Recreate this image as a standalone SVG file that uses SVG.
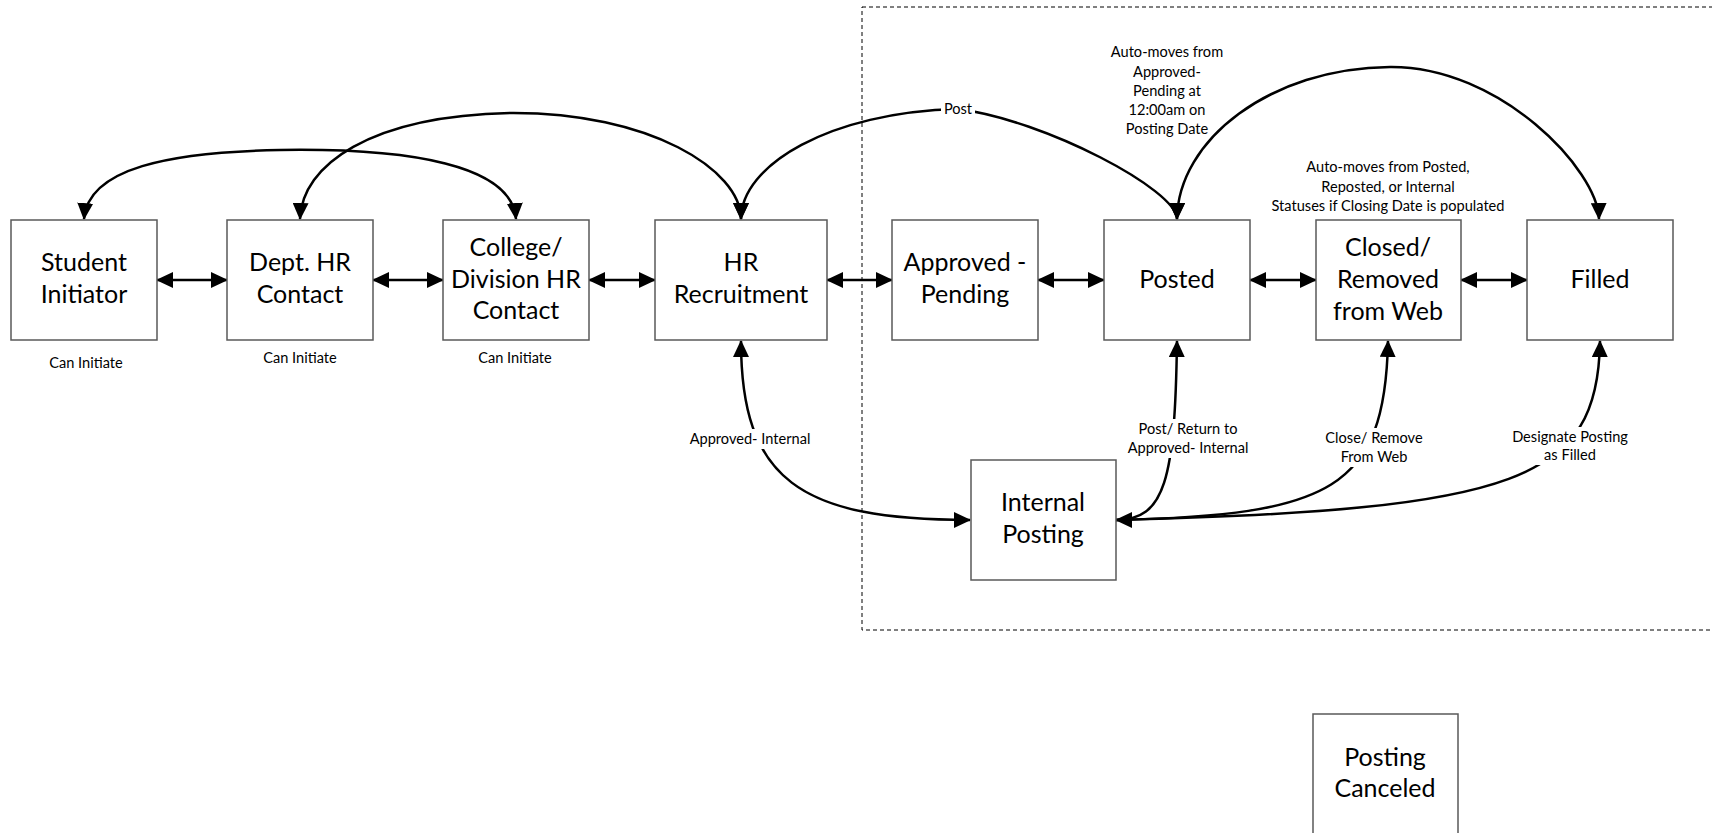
<svg xmlns="http://www.w3.org/2000/svg" width="1712" height="833" viewBox="0 0 1712 833">
<style>
.box{fill:#fff;stroke:#595959;stroke-width:1.5}
.bt{font-family:Lato,"Liberation Sans",sans-serif;font-size:25px;fill:#000;text-anchor:middle}
.st{font-family:Lato,"Liberation Sans",sans-serif;font-size:14.6px;fill:#000;text-anchor:middle}
.c{fill:none;stroke:#000;stroke-width:2.5}
.d{marker-end:url(#ah);marker-start:url(#ah)}
.bg{fill:#fff;stroke:none}
</style>
<defs>
<marker id="ah" viewBox="0 0 17 16" refX="16" refY="8" markerWidth="17" markerHeight="16" markerUnits="userSpaceOnUse" orient="auto-start-reverse">
<path d="M0,0 L17,8 L0,16 z" fill="#000"/>
</marker>
</defs>
<rect width="1712" height="833" fill="#fff"/>
<rect x="862" y="7" width="900" height="623" fill="none" stroke="#000" stroke-width="1" stroke-dasharray="4,3"/>

<g id="connectors">
<path class="c d" d="M157,280 L227,280"/>
<path class="c d" d="M373,280 L443,280"/>
<path class="c d" d="M589,280 L655,280"/>
<path class="c d" d="M827,280 L892,280"/>
<path class="c d" d="M1038,280 L1104,280"/>
<path class="c d" d="M1250,280 L1316,280"/>
<path class="c d" d="M1461,280 L1527,280"/>
<path class="c d" d="M84,219 C88,168 170,152 280,150 C410,148 512,165 516,219"/>
<path class="c d" d="M300,219 C302,165 370,116 510,113 C650,112 741,170 741,219"/>
<path class="c d" d="M741,219 C741,165 830,112 958,109 C1045,120 1177,190 1177,219"/>
<path class="c d" d="M1177,219 C1178,140 1270,68 1390,67 C1500,66 1598,170 1599,219"/>
<path class="c d" d="M741,341 C741,480 800,520 970,520"/>
<path class="c d" d="M1177,341 C1175,480 1165,520 1116,520"/>
<path class="c" marker-start="url(#ah)" d="M1388,341 C1385,490 1330,515 1116,520"/>
<path class="c" marker-start="url(#ah)" d="M1600,341 C1598,480 1520,510 1116,520"/>
<rect class="bg" x="941" y="100" width="34" height="18"/>
<rect class="bg" x="686" y="429" width="128" height="20"/>
<rect class="bg" x="1124" y="419" width="128" height="39"/>
<rect class="bg" x="1322" y="428" width="103" height="39"/>
<rect class="bg" x="1509" y="427" width="122" height="38"/>
<text class="st" x="958" y="114">Post</text>
<text class="st" x="750" y="444">Approved- Internal</text>
<text class="st" x="1188" y="434">Post/ Return to</text>
<text class="st" x="1188" y="453">Approved- Internal</text>
<text class="st" x="1374" y="443">Close/ Remove</text>
<text class="st" x="1374" y="462">From Web</text>
<text class="st" x="1570" y="442">Designate Posting</text>
<text class="st" x="1570" y="460">as Filled</text>
<text class="st" x="1167" y="57">Auto-moves from</text>
<text class="st" x="1167" y="77">Approved-</text>
<text class="st" x="1167" y="96">Pending at</text>
<text class="st" x="1167" y="115">12:00am on</text>
<text class="st" x="1167" y="134">Posting Date</text>
<text class="st" x="1388" y="172">Auto-moves from Posted,</text>
<text class="st" x="1388" y="192">Reposted, or Internal</text>
<text class="st" x="1388" y="211">Statuses if Closing Date is populated</text>
</g>

<g id="student">
<rect class="box" x="11" y="220" width="146" height="120"/>
<text class="bt" x="84" y="271">Student</text>
<text class="bt" x="84" y="303">Initiator</text>
<text class="st" x="86" y="368">Can Initiate</text>
</g>
<g id="dept">
<rect class="box" x="227" y="220" width="146" height="120"/>
<text class="bt" x="300" y="271">Dept. HR</text>
<text class="bt" x="300" y="303">Contact</text>
<text class="st" x="300" y="363">Can Initiate</text>
</g>
<g id="college">
<rect class="box" x="443" y="220" width="146" height="120"/>
<text class="bt" x="516" y="256">College/</text>
<text class="bt" x="516" y="288">Division HR</text>
<text class="bt" x="516" y="319">Contact</text>
<text class="st" x="515" y="363">Can Initiate</text>
</g>
<g id="hr">
<rect class="box" x="655" y="220" width="172" height="120"/>
<text class="bt" x="741" y="271">HR</text>
<text class="bt" x="741" y="303">Recruitment</text>
</g>
<g id="approved">
<rect class="box" x="892" y="220" width="146" height="120"/>
<text class="bt" x="965" y="271">Approved -</text>
<text class="bt" x="965" y="303">Pending</text>
</g>
<g id="posted">
<rect class="box" x="1104" y="220" width="146" height="120"/>
<text class="bt" x="1177" y="288">Posted</text>
</g>
<g id="closed">
<rect class="box" x="1316" y="220" width="145" height="120"/>
<text class="bt" x="1388" y="256">Closed/</text>
<text class="bt" x="1388" y="288">Removed</text>
<text class="bt" x="1388" y="320">from Web</text>
</g>
<g id="filled">
<rect class="box" x="1527" y="220" width="146" height="120"/>
<text class="bt" x="1600" y="288">Filled</text>
</g>
<g id="internal">
<rect class="box" x="971" y="460" width="145" height="120"/>
<text class="bt" x="1043" y="511">Internal</text>
<text class="bt" x="1043" y="543">Posting</text>
</g>
<g id="canceled">
<rect class="box" x="1313" y="714" width="145" height="125"/>
<text class="bt" x="1385" y="766">Posting</text>
<text class="bt" x="1385" y="797">Canceled</text>
</g>
</svg>
